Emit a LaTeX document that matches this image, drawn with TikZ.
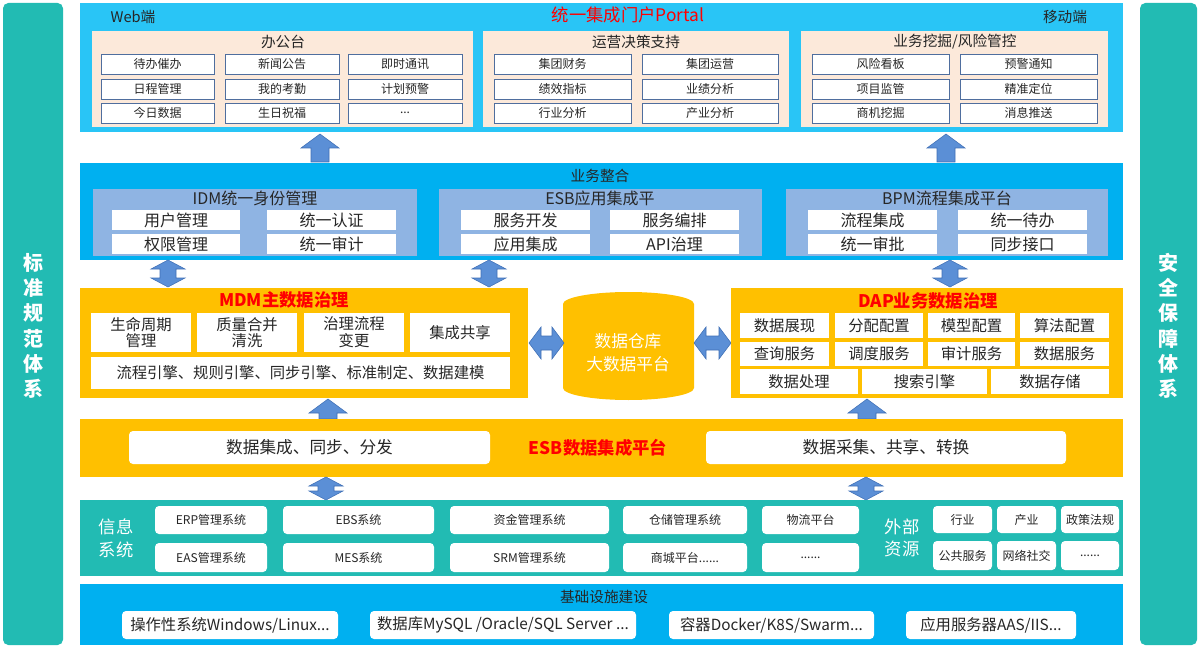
\documentclass[tikz,border=0pt]{standalone}
\usepackage{fontspec}
\setmainfont{Noto Sans CJK SC}
\definecolor{teal1}{HTML}{22BBB3}
\definecolor{sky1}{HTML}{29C5F6}
\definecolor{sky2}{HTML}{00B0F0}
\definecolor{peach}{HTML}{FCE9DA}
\definecolor{lblue}{HTML}{8FB4E3}
\definecolor{gold}{HTML}{FFC000}
\definecolor{arrf}{HTML}{5B8FD6}
\definecolor{arrd}{HTML}{3F6FB5}
\definecolor{txt}{HTML}{262626}
\definecolor{cellb}{HTML}{4F6E9E}
\newcommand\bx[7]{\pgfmathsetmacro\bw{0.75*(#4-#2)}\pgfmathsetmacro\bh{0.75*(#5-#3)}\node[#6,minimum width=\bw pt,minimum height=\bh pt,inner sep=0pt,align=center] (#1) at ({(#2+#4)/2},{(#3+#5)/2}) {#7};}
\newcommand\uparr[3]{\filldraw[arr] (#1-9,#3) -- (#1-9,#2+14) -- (#1-19,#2+14) -- (#1,#2) -- (#1+19,#2+14) -- (#1+9,#2+14) -- (#1+9,#3) -- cycle;}
\newcommand\vdarr[3]{\filldraw[arr] (#1,#2) -- (#1+17,#2+9) -- (#1+8,#2+9) -- (#1+8,#3-9) -- (#1+17,#3-9) -- (#1,#3) -- (#1-17,#3-9) -- (#1-8,#3-9) -- (#1-8,#2+9) -- (#1-17,#2+9) -- cycle;}
\newcommand\hdarr[3]{\filldraw[arr] (#1,#3) -- (#1+12,#3-16) -- (#1+12,#3-7) -- (#2-12,#3-7) -- (#2-12,#3-16) -- (#2,#3) -- (#2-12,#3+16) -- (#2-12,#3+7) -- (#1+12,#3+7) -- (#1+12,#3+16) -- cycle;}
\begin{document}
\begin{tikzpicture}[x=0.75pt,y=-0.75pt,
  arr/.style={fill=arrf,draw=arrd,line width=0.4pt},
  band/.style={rectangle,draw=none},
  pcell/.style={rectangle,fill=white,draw=cellb,line width=0.6pt,font=\fontsize{9}{10}\selectfont,text=txt},
  wcell/.style={rectangle,fill=white,draw=none,text=txt},
  ttl/.style={font=\fontsize{11}{12}\selectfont,text=txt},
  redt/.style={font=\fontsize{13}{14}\selectfont\bfseries,text=red}]
\useasboundingbox (0,0) rectangle (1200,649);
% side bars
\bx{lbar}{3}{3}{63}{645}{band,fill=teal1,rounded corners=4pt}{}
\bx{rbar}{1140}{3}{1197}{645}{band,fill=teal1,rounded corners=4pt}{}
\node[text=white,font=\fontsize{15}{19}\selectfont\bfseries,align=center] (lt) at (33,326) {标\\准\\规\\范\\体\\系};
\node[text=white,font=\fontsize{15}{19}\selectfont\bfseries,align=center] (rt) at (1168,326) {安\\全\\保\\障\\体\\系};
% portal
\bx{portal}{80}{3}{1123}{132}{band,fill=sky1}{}
\node[ttl] (web) at (133,17) {Web端};
\node[text=red,font=\fontsize{13}{14}\selectfont] (ptl) at (628,15) {统一集成门户Portal};
\node[ttl] (mob) at (1065,17) {移动端};
\bx{p1}{92}{31}{473}{127}{band,fill=peach}{}
\bx{p2}{483}{31}{789}{127}{band,fill=peach}{}
\bx{p3}{801}{31}{1108}{127}{band,fill=peach}{}
\node[ttl] (p1t) at (283,42) {办公台};
\node[ttl] (p2t) at (636,42) {运营决策支持};
\node[ttl] (p3t) at (955,42) {业务挖掘/风险管控};
\bx{a1}{101}{54}{214}{74}{pcell}{待办催办}
\bx{a2}{225}{54}{339}{74}{pcell}{新闻公告}
\bx{a3}{348}{54}{462}{74}{pcell}{即时通讯}
\bx{a4}{101}{79}{214}{99}{pcell}{日程管理}
\bx{a5}{225}{79}{339}{99}{pcell}{我的考勤}
\bx{a6}{348}{79}{462}{99}{pcell}{计划预警}
\bx{a7}{101}{103}{214}{123}{pcell}{今日数据}
\bx{a8}{225}{103}{339}{123}{pcell}{生日祝福}
\bx{a9}{348}{103}{462}{123}{pcell}{...}
\bx{b1}{494}{54}{631}{74}{pcell}{集团财务}
\bx{b2}{642}{54}{778}{74}{pcell}{集团运营}
\bx{b3}{494}{79}{631}{99}{pcell}{绩效指标}
\bx{b4}{642}{79}{778}{99}{pcell}{业绩分析}
\bx{b5}{494}{103}{631}{123}{pcell}{行业分析}
\bx{b6}{642}{103}{778}{123}{pcell}{产业分析}
\bx{c1}{812}{54}{949}{74}{pcell}{风险看板}
\bx{c2}{960}{54}{1097}{74}{pcell}{预警通知}
\bx{c3}{812}{79}{949}{99}{pcell}{项目监管}
\bx{c4}{960}{79}{1097}{99}{pcell}{精准定位}
\bx{c5}{812}{103}{949}{123}{pcell}{商机挖掘}
\bx{c6}{960}{103}{1097}{123}{pcell}{消息推送}
% arrows up
\uparr{320}{134}{162}
\uparr{946}{134}{162}
% business integration
\bx{biz}{80}{163}{1123}{260}{band,fill=sky2}{}
\node[ttl] (bizt) at (600,176) {业务整合};
\bx{idm}{93}{189}{417}{256}{band,fill=lblue}{}
\bx{esba}{439}{189}{762}{256}{band,fill=lblue}{}
\bx{bpm}{786}{189}{1108}{256}{band,fill=lblue}{}
\node[ttl,font=\fontsize{12}{13}\selectfont] (idmt) at (255,198) {IDM统一身份管理};
\node[ttl,font=\fontsize{12}{13}\selectfont] (esbat) at (600,198) {ESB应用集成平};
\node[ttl,font=\fontsize{12}{13}\selectfont] (bpmt) at (947,198) {BPM流程集成平台};
\tikzset{bcell/.style={wcell,font=\fontsize{12}{13}\selectfont}}
\bx{d1}{112}{210}{240}{230}{bcell}{用户管理}
\bx{d2}{267}{210}{396}{230}{bcell}{统一认证}
\bx{d3}{112}{234}{240}{254}{bcell}{权限管理}
\bx{d4}{267}{234}{396}{254}{bcell}{统一审计}
\bx{e1}{461}{210}{590}{230}{bcell}{服务开发}
\bx{e2}{610}{210}{739}{230}{bcell}{服务编排}
\bx{e3}{461}{234}{590}{254}{bcell}{应用集成}
\bx{e4}{610}{234}{739}{254}{bcell}{API治理}
\bx{f1}{808}{210}{937}{230}{bcell}{流程集成}
\bx{f2}{958}{210}{1087}{230}{bcell}{统一待办}
\bx{f3}{808}{234}{937}{254}{bcell}{统一审批}
\bx{f4}{958}{234}{1087}{254}{bcell}{同步接口}
\vdarr{168}{260}{287}
\vdarr{489}{260}{287}
\vdarr{950}{260}{287}
% MDM
\bx{mdm}{80}{288}{528}{398}{band,fill=gold}{}
\node[redt] (mdmt) at (284,300) {MDM主数据治理};
\tikzset{mcell/.style={wcell,font=\fontsize{11.5}{12.5}\selectfont}}
\bx{m1}{91}{313}{191}{352}{mcell}{生命周期\\管理}
\bx{m2}{197}{313}{297}{352}{mcell}{质量合并\\清洗}
\bx{m3}{304}{313}{404}{352}{mcell}{治理流程\\变更}
\bx{m4}{410}{313}{510}{352}{mcell}{集成共享}
\bx{m5}{91}{357}{510}{389}{mcell}{流程引擎、规则引擎、同步引擎、标准制定、数据建模}
% cylinder
\fill[gold] (563,304) -- (563,388) arc[start angle=180,end angle=0,x radius=65.5,y radius=12] -- (694,304) arc[start angle=0,end angle=-180,x radius=65.5,y radius=12] -- cycle;
\node[text=white,font=\fontsize{12.5}{17}\selectfont,align=center] (dw) at (628,353) {数据仓库\\大数据平台};
\hdarr{529}{564}{343}
\hdarr{694}{731}{343}
% DAP
\bx{dap}{731}{288}{1123}{398}{band,fill=gold}{}
\node[redt] (dapt) at (928,301) {DAP业务数据治理};
\bx{g1}{740}{313}{829}{338}{mcell}{数据展现}
\bx{g2}{835}{313}{923}{338}{mcell}{分配配置}
\bx{g3}{928}{313}{1015}{338}{mcell}{模型配置}
\bx{g4}{1020}{313}{1109}{338}{mcell}{算法配置}
\bx{g5}{740}{342}{829}{366}{mcell}{查询服务}
\bx{g6}{835}{342}{923}{366}{mcell}{调度服务}
\bx{g7}{928}{342}{1015}{366}{mcell}{审计服务}
\bx{g8}{1020}{342}{1109}{366}{mcell}{数据服务}
\bx{g9}{740}{369}{858}{394}{mcell}{数据处理}
\bx{g10}{862}{369}{987}{394}{mcell}{搜索引擎}
\bx{g11}{991}{369}{1109}{394}{mcell}{数据存储}
\uparr{328}{399}{419}
\uparr{867}{399}{419}
% ESB data
\bx{esbd}{80}{419}{1123}{477}{band,fill=gold}{}
\bx{h1}{129}{431}{490}{464}{wcell,rounded corners=3pt,font=\fontsize{12.5}{13}\selectfont}{数据集成、同步、分发}
\bx{h2}{706}{431}{1066}{464}{wcell,rounded corners=3pt,font=\fontsize{12.5}{13}\selectfont}{数据采集、共享、转换}
\node[redt] (esbt) at (598,448) {ESB数据集成平台};
\vdarr{326}{477}{500}
\vdarr{866}{477}{500}
% info systems
\bx{info}{80}{500}{1123}{576}{band,fill=teal1}{}
\node[text=white,font=\fontsize{13}{17}\selectfont,align=center] (infot) at (116,538) {信息\\系统};
\node[text=white,font=\fontsize{13}{17}\selectfont,align=center] (extt) at (902,538) {外部\\资源};
\tikzset{icell/.style={wcell,rounded corners=3pt,font=\fontsize{9}{10}\selectfont,text=txt}}
\bx{i1}{155}{506}{267}{534}{icell}{ERP管理系统}
\bx{i2}{283}{506}{434}{534}{icell}{EBS系统}
\bx{i3}{450}{506}{609}{534}{icell}{资金管理系统}
\bx{i4}{623}{506}{747}{534}{icell}{仓储管理系统}
\bx{i5}{762}{506}{859}{534}{icell}{物流平台}
\bx{i6}{155}{543}{267}{572}{icell}{EAS管理系统}
\bx{i7}{283}{543}{434}{572}{icell}{MES系统}
\bx{i8}{450}{543}{609}{572}{icell}{SRM管理系统}
\bx{i9}{623}{543}{747}{572}{icell}{商城平台......}
\bx{i10}{762}{543}{859}{572}{icell}{......}
\bx{x1}{933}{506}{992}{533}{icell}{行业}
\bx{x2}{997}{506}{1056}{533}{icell}{产业}
\bx{x3}{1061}{506}{1119}{533}{icell}{政策法规}
\bx{x4}{933}{541}{992}{570}{icell}{公共服务}
\bx{x5}{997}{541}{1056}{570}{icell}{网络社交}
\bx{x6}{1061}{541}{1119}{570}{icell}{......}
% infrastructure
\bx{infra}{80}{584}{1123}{645}{band,fill=sky2}{}
\node[ttl] (infrat) at (604,597) {基础设施建设};
\tikzset{fcell/.style={wcell,rounded corners=3pt,font=\fontsize{11.5}{12}\selectfont}}
\bx{k1}{122}{611}{338}{639}{fcell}{操作性系统Windows/Linux...}
\bx{k2}{370}{611}{636}{639}{fcell}{数据库MySQL /Oracle/SQL Server ...}
\bx{k3}{669}{611}{874}{639}{fcell}{容器Docker/K8S/Swarm...}
\bx{k4}{906}{611}{1076}{639}{fcell}{应用服务器AAS/IIS...}
\end{tikzpicture}
\end{document}
